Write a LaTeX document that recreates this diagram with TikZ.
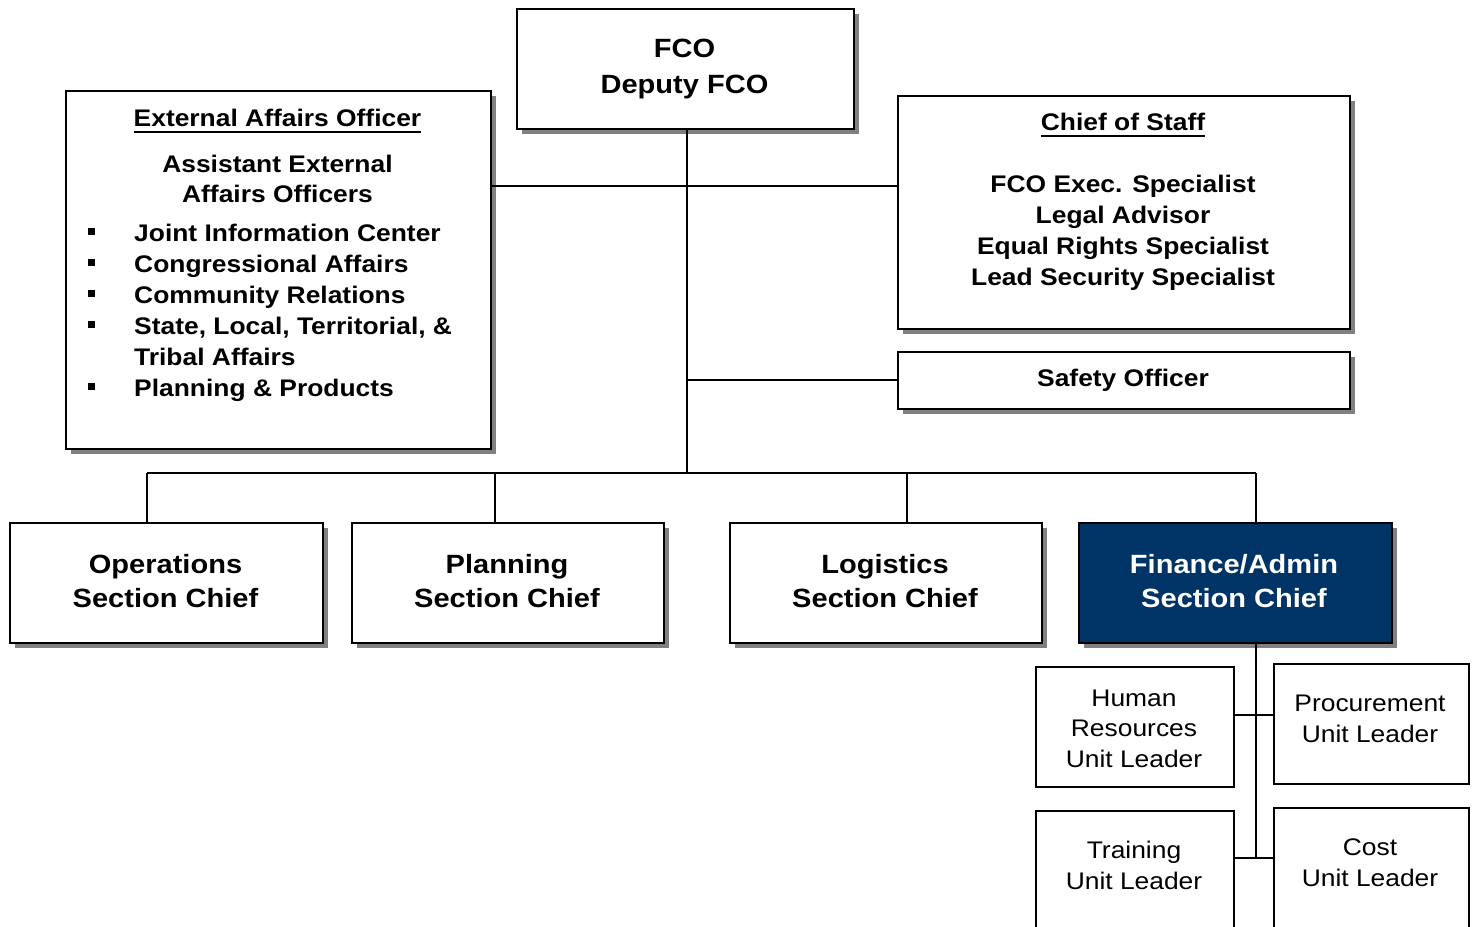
\documentclass[tikz,border=0pt]{standalone}
\usepackage{fontspec}
\setmainfont[FakeStretch=1.1]{Liberation Sans}
\usetikzlibrary{shadows}
\definecolor{navy}{RGB}{0,51,102}
\definecolor{shade}{RGB}{128,128,128}

\begin{document}
\begin{tikzpicture}[x=1pt,y=-1pt,
  box/.style={draw=black, line width=2pt, fill=white, rectangle, inner sep=0pt, anchor=north west},
  shbox/.style={box, drop shadow={shadow xshift=5pt, shadow yshift=-5pt, fill=shade, opacity=1}},
  link/.style={line width=2pt, draw=black},
  txt/.style={inner sep=0pt, anchor=base, font=\fontsize{24}{29}\selectfont\bfseries},
  lefttxt/.style={txt, anchor=base west},
  reg/.style={inner sep=0pt, anchor=base, font=\fontsize{24}{29}\selectfont},
  big/.style={inner sep=0pt, anchor=base, font=\fontsize{26.4}{32}\selectfont\bfseries},
  bul/.style={fill=black, inner sep=0pt, minimum size=7pt, rectangle},
  ul/.style={line width=2pt}]

\useasboundingbox (0,0) rectangle (1474,926);
\clip (0,0) rectangle (1474,926);

% junction points of the connector tree
\coordinate (hub) at (687,473);
\coordinate (jea) at (687,186);
\coordinate (jso) at (687,379.5);
\coordinate (d1) at (147,473);
\coordinate (d2) at (495,473);
\coordinate (d3) at (907,473);
\coordinate (d4) at (1255.5,473);
\coordinate (k1) at (1255.5,714.5);
\coordinate (k2) at (1255.5,858);

% boxes
\node[shbox, minimum width=337pt, minimum height=120.5pt] (fco) at (516,7.5) {};
\node[shbox, minimum width=425pt, minimum height=358pt] (ea) at (65,90) {};
\node[shbox, minimum width=452pt, minimum height=233pt] (cos) at (897,95) {};
\node[shbox, minimum width=452pt, minimum height=57pt] (so) at (897,351) {};
\node[shbox, minimum width=313pt, minimum height=120.5pt] (ops) at (9,521.5) {};
\node[shbox, minimum width=312pt, minimum height=120.5pt] (pla) at (351,521.5) {};
\node[shbox, minimum width=312pt, minimum height=120.5pt] (log) at (729,521.5) {};
\node[shbox, fill=navy, minimum width=312.5pt, minimum height=120.5pt] (fin) at (1078,521.5) {};
\node[box, minimum width=198pt, minimum height=120pt] (hr) at (1035,666) {};
\node[box, minimum width=195.5pt, minimum height=120pt] (pr) at (1272.5,663.3) {};
\node[box, minimum width=198pt, minimum height=150pt] (tr) at (1035,810) {};
\node[box, minimum width=195.5pt, minimum height=150pt] (co) at (1272.5,807.3) {};

% connectors
\draw[link] (fco.south -| hub) -- (hub);
\draw[link] (ea.east |- jea) -- (cos.west |- jea);
\draw[link] (jso) -- (so.west |- jso);
\draw[link] (d1) -- (d4);
\draw[link] (d1) -- (d1 |- ops.north);
\draw[link] (d2) -- (d2 |- pla.north);
\draw[link] (d3) -- (d3 |- log.north);
\draw[link] (d4) -- (d4 |- fin.north);
\draw[link] (fin.south -| k1) -- (k2);
\draw[link] (hr.east |- k1) -- (pr.west |- k1);
\draw[link] (tr.east |- k2) -- (co.west |- k2);

% FCO
\node[big] (fco1) at (684.5,57.5) {FCO};
\node[big] (fco2) at (684.5,93) {Deputy FCO};

% External Affairs
\node[txt] (ea0) at (277.5,126.7) {External Affairs Officer};
\draw[ul] ([yshift=-4.8pt]ea0.base west) -- ([yshift=-4.8pt]ea0.base east);
\node[txt] (ea1) at (277.5,172.3) {Assistant External};
\node[txt] (ea2) at (277.5,202.3) {Affairs Officers};
\node[lefttxt] (eb1) at (134,241.5) {Joint Information Center};
\node[lefttxt] (eb2) at (134,272.4) {Congressional Affairs};
\node[lefttxt] (eb3) at (134,303.3) {Community Relations};
\node[lefttxt] (eb4) at (134,334.2) {State, Local, Territorial, \&};
\node[lefttxt] (eb5) at (134,365.1) {Tribal Affairs};
\node[lefttxt] (eb6) at (134,396) {Planning \& Products};
\node[bul] (m1) at (91.7,231.8) {};
\node[bul] (m2) at (91.7,262.7) {};
\node[bul] (m3) at (91.7,293.6) {};
\node[bul] (m4) at (91.7,324.5) {};
\node[bul] (m6) at (91.7,386.3) {};

% Chief of Staff
\node[txt] (cs0) at (1123,130.7) {Chief of Staff};
\draw[ul] ([yshift=-4.8pt]cs0.base west) -- ([yshift=-4.8pt]cs0.base east);
\node[txt] (cs1) at (1123,192.5) {FCO Exec. Specialist};
\node[txt] (cs2) at (1123,223.3) {Legal Advisor};
\node[txt] (cs3) at (1123,254.1) {Equal Rights Specialist};
\node[txt] (cs4) at (1123,285) {Lead Security Specialist};

% Safety Officer
\node[txt] (so1) at (1123,386.7) {Safety Officer};

% Section chiefs
\node[big] (ops1) at (165.5,573.5) {Operations};
\node[big] (ops2) at (165.5,607.5) {Section Chief};
\node[big] (pla1) at (507,573.5) {Planning};
\node[big] (pla2) at (507,607.5) {Section Chief};
\node[big] (log1) at (885,573.5) {Logistics};
\node[big] (log2) at (885,607.5) {Section Chief};
\node[big, text=white] (fin1) at (1234,573.5) {Finance/Admin};
\node[big, text=white] (fin2) at (1234,607.5) {Section Chief};

% Unit leaders
\node[reg] (hr1) at (1134,706) {Human};
\node[reg] (hr2) at (1134,736.5) {Resources};
\node[reg] (hr3) at (1134,767) {Unit Leader};
\node[reg] (pr1) at (1370,711.5) {Procurement};
\node[reg] (pr2) at (1370,742.5) {Unit Leader};
\node[reg] (tr1) at (1134,858.5) {Training};
\node[reg] (tr2) at (1134,889) {Unit Leader};
\node[reg] (co1) at (1370,855.5) {Cost};
\node[reg] (co2) at (1370,886.5) {Unit Leader};
\end{tikzpicture}
\end{document}
